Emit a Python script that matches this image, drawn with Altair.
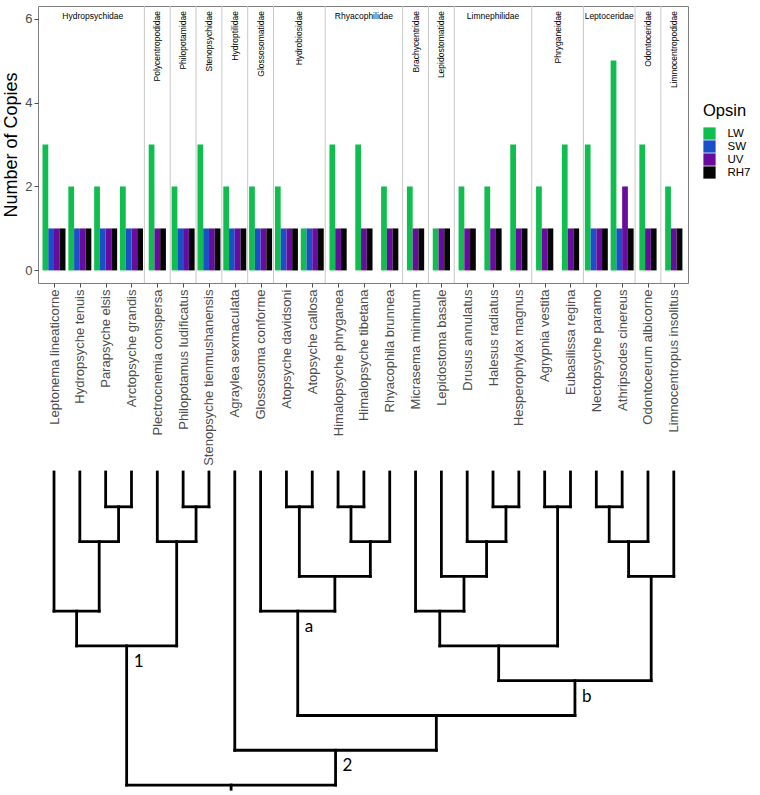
import altair as alt
import pandas as pd

# ---------------- data ----------------
species = [
    "Leptonema lineaticorne", "Hydropsyche tenuis", "Parapsyche elsis", "Arctopsyche grandis",
    "Plectrocnemia conspersa", "Philopotamus ludificatus", "Stenopsyche tienmushanensis",
    "Agraylea sexmaculata", "Glossosoma conforme", "Atopsyche davidsoni", "Atopsyche callosa",
    "Himalopsyche phryganea", "Himalopsyche tibetana", "Rhyacophila brunnea", "Micrasema minimum",
    "Lepidostoma basale", "Drusus annulatus", "Halesus radiatus", "Hesperophylax magnus",
    "Agrypnia vestita", "Eubasilissa regina", "Nectopsyche paramo", "Athripsodes cinereus",
    "Odontocerum albicorne", "Limnocentropus insolitus",
]
opsins = ["LW", "SW", "UV", "RH7"]
lw_copies = [3, 2, 2, 2, 3, 2, 3, 2, 2, 2, 1, 3, 3, 2, 2, 1, 2, 2, 3, 2, 3, 3, 5, 3, 2]
sw_copies = [1, 1, 1, 1, 0, 1, 1, 1, 1, 1, 1, 0, 0, 0, 0, 0, 0, 0, 0, 0, 0, 1, 1, 0, 0]
uv_copies = [1, 1, 1, 1, 1, 1, 1, 1, 1, 1, 1, 1, 1, 1, 1, 1, 1, 1, 1, 1, 1, 1, 2, 1, 1]
rh7_copies = [1] * 25

families = [
    "Hydropsychidae", "Polycentropodidae", "Philopotamidae", "Stenopsychidae", "Hydroptilidae",
    "Glossosomatidae", "Hydrobiosidae", "Rhyacophilidae", "Brachycentridae", "Lepidostomatidae",
    "Limnephilidae", "Phryganeidae", "Leptoceridae", "Odontoceridae", "Limnocentropodidae",
]
family_sizes = [4, 1, 1, 1, 1, 1, 2, 3, 1, 1, 3, 2, 2, 1, 1]
family_vertical = [False, True, True, True, True, True, True, False, True, True, False, True, False, True, True]

# tree: (level, left, right, label); leaves are species indices
clade_1 = (5, (4, 0, (2, 1, (1, 2, 3, ""), ""), ""), (2, 4, (1, 5, 6, ""), ""), "1")
clade_a = (4, 8, (3, (1, 9, 10, ""), (2, (1, 11, 12, ""), 13, ""), ""), "a")
clade_b = (6, (5, (4, 14, (3, 15, (2, 16, (1, 17, 18, ""), ""), ""), ""), (1, 19, 20, ""), ""),
           (3, (2, (1, 21, 22, ""), 23, ""), 24, ""), "b")
clade_2 = (8, 7, (7, clade_a, clade_b, ""), "2")
tree_root = (9, clade_1, clade_2, "")

opsin_colors = ["#10BD4F", "#1A4FC8", "#6A0BA0", "#050505"]

# ---------------- styling constants ----------------
BAR_W = 0.2225
X_DOMAIN = [-0.62, 24.55]
PLOT_W = 650
FONT = "Liberation Sans"

# ---------------- build tables ----------------
copies = {"LW": lw_copies, "SW": sw_copies, "UV": uv_copies, "RH7": rh7_copies}
rows = []
for i, sp in enumerate(species):
    present = [o for o in opsins if copies[o][i] > 0]
    k = len(present)
    for j, o in enumerate(present):
        c = i + (j - (k - 1) / 2) * BAR_W
        rows.append({"species": sp, "Opsin": o, "count": copies[o][i],
                     "x0": c - BAR_W / 2, "x1": c + BAR_W / 2})
bars_df = pd.DataFrame(rows)

fam_rows, bounds = [], []
start = 0
for f, n, v in zip(families, family_sizes, family_vertical):
    end = start + n - 1
    fam_rows.append({"family": f, "xc": (start + end) / 2, "vertical": v})
    if end < len(species) - 1:
        bounds.append({"b": end + 0.5})
    start = end + 1
fam_df = pd.DataFrame(fam_rows)
bound_df = pd.DataFrame(bounds)

segs, labels = [], []


def walk(node):
    if isinstance(node, int):
        return float(node), 0.0
    level, a, b, lab = node
    xa, la = walk(a)
    xb, lb = walk(b)
    segs.append({"x": xa, "x2": xb, "y": level, "y2": level})
    segs.append({"x": xa, "x2": xa, "y": la, "y2": level})
    segs.append({"x": xb, "x2": xb, "y": lb, "y2": level})
    xm = (xa + xb) / 2
    if lab:
        labels.append({"x": xm, "y": level + 0.6, "label": lab})
    return xm, level


rx, rl = walk(tree_root)
segs.append({"x": rx, "x2": rx, "y": rl, "y2": rl + 0.12})
seg_df = pd.DataFrame(segs)
lab_df = pd.DataFrame(labels)

names_js = "[" + ",".join("'" + s + "'" for s in species) + "]"

xscale = alt.Scale(domain=X_DOMAIN, nice=False, zero=False)
x_axis = alt.Axis(values=list(range(len(species))), labelExpr=names_js + "[round(datum.value)]",
                  labelAngle=-90, labelFontSize=13, labelColor="#4d4d4d", labelFont=FONT,
                  labelOverlap=False, labelFlush=False, labelPadding=2,
                  tickSize=4, tickColor="#4d4d4d", domain=False, grid=False, title=None)

# ---------------- top chart ----------------
bars = alt.Chart(bars_df).mark_bar().encode(
    x=alt.X("x0:Q", scale=xscale, axis=x_axis),
    x2="x1:Q",
    y=alt.Y("count:Q", scale=alt.Scale(domain=[-0.3, 6.3], nice=False, zero=False),
            axis=alt.Axis(values=[0, 2, 4, 6], title="Number of Copies", titleFontSize=18,
                          titleFont=FONT, titleFontWeight="normal", titleColor="black",
                          titlePadding=4, labelFontSize=13, labelColor="#4d4d4d", labelFont=FONT,
                          tickSize=4, tickColor="#4d4d4d", domain=False, grid=False)),
    y2=alt.datum(0),
    color=alt.Color("Opsin:N", scale=alt.Scale(domain=opsins, range=opsin_colors),
                    legend=alt.Legend(orient="none", legendX=665, legendY=97, title="Opsin",
                                      titleFontSize=16.5, titleFont=FONT, titleFontWeight="normal",
                                      titleColor="black", titlePadding=7.5, labelFontSize=11.5,
                                      labelFont=FONT, labelColor="black", labelOffset=11.5,
                                      symbolType="square", symbolSize=150,
                                      symbolStrokeWidth=0, symbolOpacity=1, rowPadding=0,
                                      padding=0)),
)

seps = alt.Chart(bound_df).mark_rule(color="#c9c9c9", strokeWidth=1).encode(
    x=alt.X("b:Q", scale=xscale, axis=x_axis)
)

fam_v = alt.Chart(fam_df).transform_filter("datum.vertical").mark_text(
    angle=270, align="right", baseline="middle", fontSize=8.5, font=FONT, color="black"
).encode(x=alt.X("xc:Q", scale=xscale, axis=x_axis), y=alt.value(5), text="family:N")

fam_h = alt.Chart(fam_df).transform_filter("!datum.vertical").mark_text(
    align="center", baseline="alphabetic", fontSize=8.5, font=FONT, color="black"
).encode(x=alt.X("xc:Q", scale=xscale, axis=x_axis), y=alt.value(13), text="family:N")

top = alt.layer(seps, bars, fam_v, fam_h).properties(
    width=PLOT_W, height=277, view=alt.ViewBackground(stroke="#7f7f7f", strokeWidth=1)
)

# ---------------- tree ----------------
tscale = alt.Scale(domain=[0, 9.2], nice=False, zero=False, reverse=True)
branches = alt.Chart(seg_df).mark_rule(color="black", strokeWidth=2.8, strokeCap="square").encode(
    x=alt.X("x:Q", scale=xscale, axis=None),
    x2="x2:Q",
    y=alt.Y("y:Q", scale=tscale, axis=None),
    y2="y2:Q",
)
node_labels = alt.Chart(lab_df).mark_text(
    align="left", baseline="alphabetic", dx=7, fontSize=17, font="Lato", color="black"
).encode(x=alt.X("x:Q", scale=xscale, axis=None), y=alt.Y("y:Q", scale=tscale, axis=None),
         text="label:N")

tree = alt.layer(branches, node_labels).properties(
    width=PLOT_W, height=320, view=alt.ViewBackground(stroke="transparent")
)

chart = alt.vconcat(top, tree, spacing=3).resolve_scale(color="independent").properties(
    padding={"left": 2, "top": 5, "right": 5, "bottom": 0}
).configure(background="white")

chart.save("out.html", embed_options={"renderer": "svg", "actions": False})
